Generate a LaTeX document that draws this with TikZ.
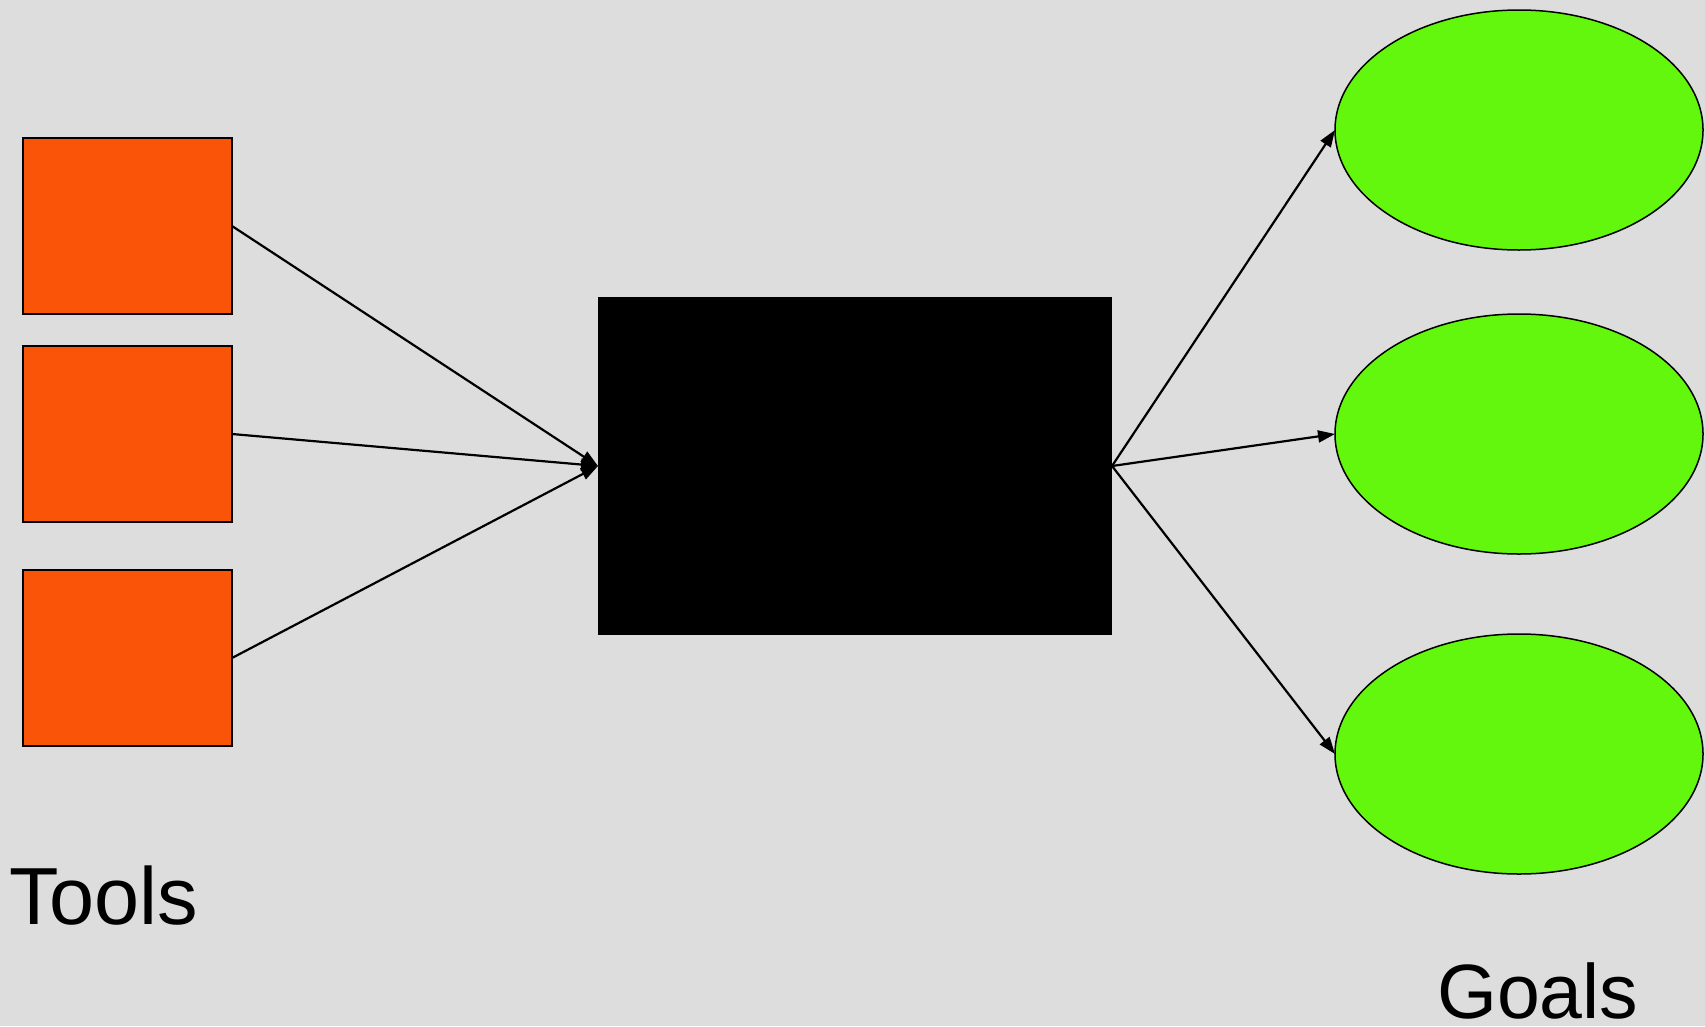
\documentclass[tikz,border=0pt]{standalone}
\usepackage{fontspec}
\setmainfont{Liberation Sans}
\usetikzlibrary{arrows.meta,shapes.geometric}
\definecolor{bgc}{RGB}{221,221,221}
\definecolor{toolc}{RGB}{250,84,8}
\definecolor{goalc}{RGB}{98,247,13}
\begin{document}
\begin{tikzpicture}[x=1bp,y=-1bp,
  toolbox/.style={draw=black,line width=1.5bp,fill=toolc,minimum width=209bp,minimum height=176bp,inner sep=0pt,outer sep=0pt},
  goal/.style={ellipse,draw=black,line width=1.5bp,fill=goalc,minimum width=368bp,minimum height=240bp,inner sep=0pt,outer sep=0pt},
  conn/.style={line width=2.2bp,-{Triangle[length=17bp,width=12bp]}},
  lbl/.style={inner sep=0pt,anchor=base west}]
\fill[bgc] (0,0) rectangle (1705,1026);
\useasboundingbox (0,0) rectangle (1705,1026);
\node[toolbox] (t1) at (127.5,226) {};
\node[toolbox] (t2) at (127.5,434) {};
\node[toolbox] (t3) at (127.5,658) {};
\node[fill=black,minimum width=514bp,minimum height=338bp,inner sep=0pt,outer sep=0pt] (bb) at (855,466) {};
\node[goal] (g1) at (1519,130) {};
\node[goal] (g2) at (1519,434) {};
\node[goal] (g3) at (1519,754) {};
\draw[conn] (t1.east) -- (bb.west);
\draw[conn] (t2.east) -- (bb.west);
\draw[conn] (t3.east) -- (bb.west);
\draw[conn] (bb.east) -- (g1.west);
\draw[conn] (bb.east) -- (g2.west);
\draw[conn] (bb.east) -- (g3.west);
\node[lbl,font=\fontsize{81bp}{90bp}\selectfont] (tools) at (9,924) {Tools};
\node[lbl,font=\fontsize{77bp}{86bp}\selectfont] (goals) at (1437,1018) {Goals};
\end{tikzpicture}
\end{document}
